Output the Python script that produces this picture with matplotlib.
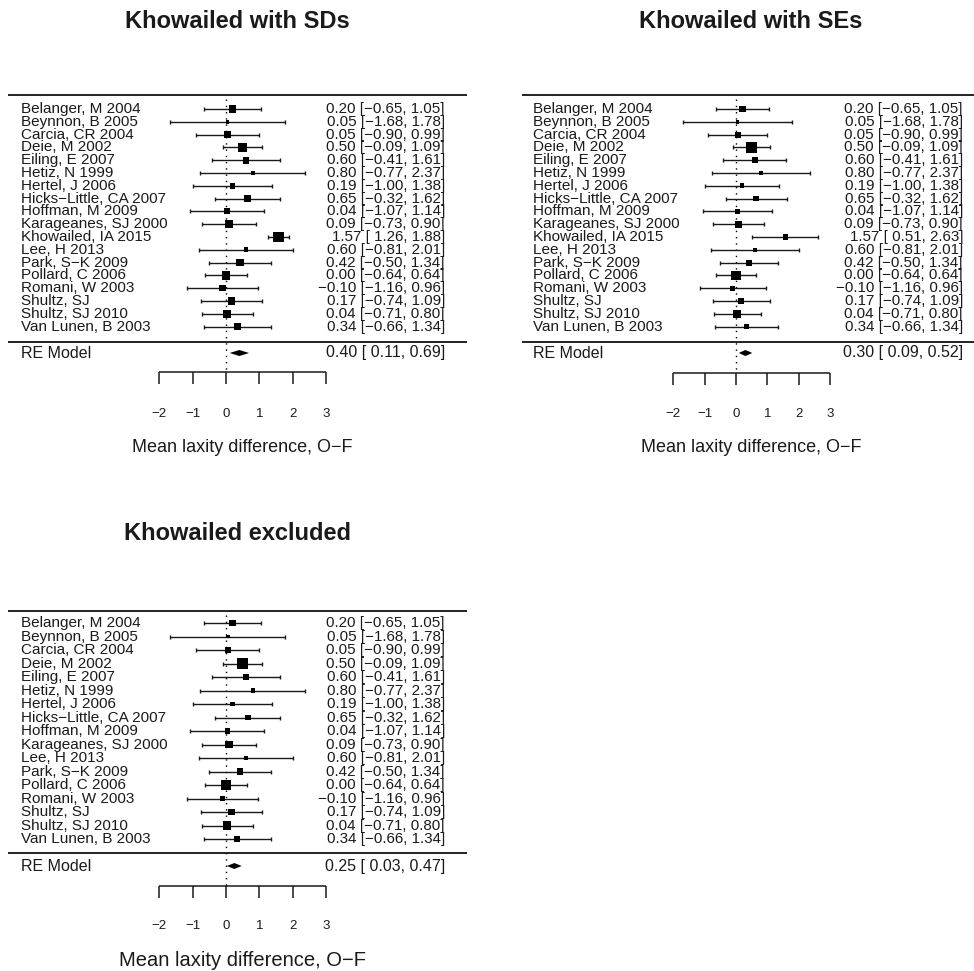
import numpy as np
import matplotlib
matplotlib.use("Agg")
import matplotlib.pyplot as plt
from matplotlib.patches import Polygon

plt.rcParams['font.family'] = ['Liberation Sans', 'DejaVu Sans']

W, H = 974, 971

STUDIES = ["Belanger, M 2004", "Beynnon, B 2005", "Carcia, CR 2004", "Deie, M 2002",
           "Eiling, E 2007", "Hetiz, N 1999", "Hertel, J 2006", "Hicks\u2212Little, CA 2007",
           "Hoffman, M 2009", "Karageanes, SJ 2000", "Khowailed, IA 2015", "Lee, H 2013",
           "Park, S\u2212K 2009", "Pollard, C 2006", "Romani, W 2003", "Shultz, SJ",
           "Shultz, SJ 2010", "Van Lunen, B 2003"]
EST = [0.20, 0.05, 0.05, 0.50, 0.60, 0.80, 0.19, 0.65, 0.04, 0.09, 1.57, 0.60,
       0.42, 0.00, -0.10, 0.17, 0.04, 0.34]
LB_SD = [-0.65, -1.68, -0.90, -0.09, -0.41, -0.77, -1.00, -0.32, -1.07, -0.73, 1.26, -0.81,
         -0.50, -0.64, -1.16, -0.74, -0.71, -0.66]
UB_SD = [1.05, 1.78, 0.99, 1.09, 1.61, 2.37, 1.38, 1.62, 1.14, 0.90, 1.88, 2.01,
         1.34, 0.64, 0.96, 1.09, 0.80, 1.34]
KHOW_IDX = 10
KHOW_CI_SE = (0.51, 2.63)

POOLED_SD = (0.40, 0.11, 0.69)
POOLED_SE = (0.30, 0.09, 0.52)
POOLED_EXCL = (0.25, 0.03, 0.47)

TICKS = [-2, -1, 0, 1, 2, 3]
XLABEL = "Mean laxity difference, O\u2212F"
TITLES = ["Khowailed with SDs", "Khowailed with SEs", "Khowailed excluded"]


def fmt(v, width=0):
    return f"{v:{width}.2f}".replace("-", "\u2212")


def point_sizes(est, lb, ub):
    # metafor-like: RE weights (DL tau^2), rescaled to 0.5..1.5
    yi = np.array(est)
    vi = ((np.array(ub) - np.array(lb)) / (2 * 1.96)) ** 2
    w = 1 / vi
    ybar = (w * yi).sum() / w.sum()
    q = (w * (yi - ybar) ** 2).sum()
    tau2 = max(0.0, (q - (len(yi) - 1)) / (w.sum() - (w ** 2).sum() / w.sum()))
    wr = 1 / (vi + tau2)
    p = wr / wr.sum()
    p = (p - p.min()) / (p.max() - p.min())
    return p + 0.5


def forest(fig, box, lay, labels, est, lb, ub, pooled, title):
    l, t, r, b = box
    ax = fig.add_axes([l / W, 1 - b / H, (r - l) / W, (b - t) / H])
    x0, unit, row0, sp = lay['x0'], lay['unit'], lay['row0'], lay['sp']
    px_x = lambda p: (p - x0) / unit
    px_y = lambda p: (p - row0) / sp
    ax.set_xlim(px_x(l), px_x(r))
    ax.set_ylim(px_y(b), px_y(t))
    ax.axis('off')

    rows = np.arange(len(labels))
    est = np.array(est)
    lb = np.array(lb)
    ub = np.array(ub)
    lw = 1.0
    ink = '#1a1a1a'
    cap = 2.0 / sp

    # reference line
    ax.vlines(0, px_y(lay['top']) + 0.3, px_y(lay['axis']), color='black', lw=1.0,
              linestyles=[(0, (1, 3.5))])

    # separators
    ax.hlines([px_y(lay['top']), px_y(lay['bottom'])], px_x(lay['line'][0]), px_x(lay['line'][1]),
              color='#222222', lw=1.4, clip_on=False)

    # CIs and squares
    ax.hlines(rows, lb, ub, color=ink, lw=lw)
    ax.vlines(np.concatenate([lb, ub]), np.concatenate([rows, rows]) - cap,
              np.concatenate([rows, rows]) + cap, color=ink, lw=lw)
    side_pt = point_sizes(est, lb, ub) * lay['psz'] * 72 / 100
    ax.scatter(est, rows, s=side_pt ** 2, marker='s', color='black', linewidths=0, zorder=3)

    for i, lab in enumerate(labels):
        ax.text(px_x(lay['label_x']), i, lab, ha='left', va='center', fontsize=11, color=ink)
        ax.text(px_x(lay['right_x']), i, f"{fmt(est[i])} [{fmt(lb[i], 5)}, {fmt(ub[i])}]",
                ha='right', va='center', fontsize=10.9, color=ink)

    # pooled estimate
    pe, plb, pub = pooled
    yre = px_y(lay['re'])
    hh = 3.0 / sp
    ax.add_patch(Polygon([(plb, yre), (pe, yre - hh), (pub, yre), (pe, yre + hh)],
                         closed=True, color='black', lw=0))
    ax.text(px_x(lay['label_x']), yre, "RE Model", ha='left', va='center', fontsize=11.5, color=ink)
    ax.text(px_x(lay['right_x']), yre, f"{fmt(pe)} [{fmt(plb, 5)}, {fmt(pub)}]",
            ha='right', va='center', fontsize=11.5, color=ink)

    # axis
    ya = px_y(lay['axis'])
    ax.hlines(ya, TICKS[0], TICKS[-1], color=ink, lw=1.1)
    ax.vlines(TICKS, ya, ya + 12 / sp, color=ink, lw=1.1)
    for tk in TICKS:
        ax.text(tk, px_y(lay['ticklab']), str(tk).replace("-", "\u2212"), ha='center',
                va='center', fontsize=9.5, color=ink)
    ax.text((TICKS[0] + TICKS[-1]) / 2, px_y(lay['xlab']), XLABEL, ha='center', va='center',
            fontsize=lay['xlab_fs'], color=ink)
    ax.text(px_x(lay['title'][0]), px_y(lay['title'][1]), title, ha='center', va='center',
            fontsize=17, fontweight='bold', color=ink)


LAYOUTS = [
    dict(x0=226, unit=33.4, row0=109, sp=12.8, top=95, bottom=342, re=353, axis=372,
         ticklab=414, xlab=447, xlab_fs=13, title=(237, 21), label_x=21, right_x=445,
         line=(8, 467), psz=7.3),
    dict(x0=736, unit=31.3, row0=109, sp=12.8, top=95, bottom=342, re=353, axis=373,
         ticklab=414, xlab=447, xlab_fs=13, title=(751, 21), label_x=533, right_x=963,
         line=(522, 974), psz=7.3),
    dict(x0=226, unit=33.4, row0=623, sp=13.5, top=611, bottom=853, re=866, axis=886,
         ticklab=926, xlab=960, xlab_fs=14.5, title=(237, 533), label_x=21, right_x=445,
         line=(8, 467), psz=7.6),
]
BOXES = [(0, 0, 487, 485), (487, 0, 974, 485), (0, 485, 487, 971)]

lb_se = list(LB_SD)
ub_se = list(UB_SD)
lb_se[KHOW_IDX], ub_se[KHOW_IDX] = KHOW_CI_SE
keep = [i for i in range(len(STUDIES)) if i != KHOW_IDX]

panels = [
    (STUDIES, EST, LB_SD, UB_SD, POOLED_SD),
    (STUDIES, EST, lb_se, ub_se, POOLED_SE),
    ([STUDIES[i] for i in keep], [EST[i] for i in keep], [LB_SD[i] for i in keep],
     [UB_SD[i] for i in keep], POOLED_EXCL),
]

fig = plt.figure(figsize=(W / 100, H / 100), dpi=100)
for (labs, e, lo, hi, pooled), lay, box, title in zip(panels, LAYOUTS, BOXES, TITLES):
    forest(fig, box, lay, labs, e, lo, hi, pooled, title)

fig.savefig("out.png", dpi=100)
